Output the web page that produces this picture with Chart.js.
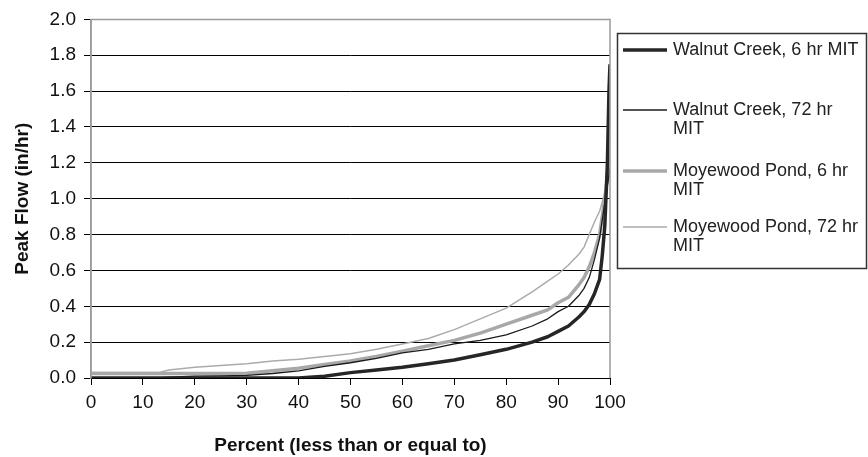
<!DOCTYPE html>
<html>
<head>
<meta charset="utf-8">
<script src="https://cdn.jsdelivr.net/npm/chart.js@4.4.1/dist/chart.umd.min.js"></script>
<style>
  html, body { margin: 0; padding: 0; background: #fff; }
  #wrap { width: 868px; height: 457px; position: relative; }
</style>
</head>
<body>
<div id="wrap"><canvas id="c" width="868" height="457"></canvas></div>
<script>
// ---- data ----
const pct = [0, 10, 13, 15, 20, 25, 30, 35, 40, 45, 50, 55, 60, 65, 70, 75, 80, 85, 88, 90, 92, 94, 95, 96, 97, 98, 98.5, 99, 99.5, 99.8, 100];
const walnut6 = [0, 0, 0, 0, 0, 0, 0, 0, 0, 0.01, 0.03, 0.045, 0.06, 0.08, 0.10, 0.13, 0.16, 0.20, 0.23, 0.26, 0.29, 0.34, 0.37, 0.41, 0.47, 0.55, 0.68, 0.85, 1.2, 1.6, 1.75];
const walnut72 = [0, 0, 0, 0.005, 0.01, 0.012, 0.015, 0.025, 0.04, 0.065, 0.085, 0.11, 0.14, 0.16, 0.19, 0.21, 0.24, 0.29, 0.33, 0.37, 0.40, 0.46, 0.50, 0.56, 0.66, 0.78, 0.88, 0.98, 1.08, 1.13, 1.17];
const moye6 = [0.025, 0.025, 0.025, 0.025, 0.025, 0.025, 0.027, 0.04, 0.055, 0.075, 0.095, 0.12, 0.15, 0.18, 0.21, 0.25, 0.30, 0.35, 0.38, 0.42, 0.45, 0.52, 0.56, 0.62, 0.70, 0.80, 0.90, 1.0, 1.12, 1.2, 1.27];
const moye72 = [0.03, 0.03, 0.03, 0.045, 0.06, 0.07, 0.08, 0.095, 0.105, 0.12, 0.135, 0.16, 0.19, 0.22, 0.27, 0.33, 0.39, 0.48, 0.54, 0.58, 0.63, 0.69, 0.73, 0.80, 0.87, 0.93, 0.98, 1.03, 1.08, 1.12, 1.15];
const seriesNames = ['Walnut Creek, 6 hr MIT', 'Walnut Creek, 72 hr MIT', 'Moyewood Pond, 6 hr MIT', 'Moyewood Pond, 72 hr MIT'];
const xTitle = 'Percent (less than or equal to)';
const yTitle = 'Peak Flow (in/hr)';

const toPts = arr => pct.map((p, i) => ({ x: p, y: arr[i] }));

const FONT = "'Liberation Sans', Arial, Helvetica, sans-serif";

const frameAndLegend = {
  id: 'frameAndLegend',
  afterDatasetsDraw(chart) {
    const { ctx, chartArea: a } = chart;
    ctx.save();
    ctx.strokeStyle = '#9a9a9a';
    ctx.lineWidth = 1.5;
    ctx.beginPath();
    ctx.moveTo(a.left, a.bottom);
    ctx.lineTo(a.left, a.top);
    ctx.lineTo(a.right, a.top);
    ctx.lineTo(a.right, a.bottom);
    ctx.stroke();
    ctx.restore();
  },
  afterDraw(chart) {
    const { ctx } = chart;
    ctx.save();
    const bx = 617, by = 33, bw = 249, bh = 235;
    ctx.strokeStyle = '#333';
    ctx.lineWidth = 1.5;
    ctx.strokeRect(bx + 0.5, by + 0.5, bw, bh);
    ctx.font = '18px ' + FONT;
    ctx.fillStyle = '#222';
    ctx.textBaseline = 'middle';
    const rows = [50, 110, 171, 227];
    const maxW = 188;
    chart.data.datasets.forEach((ds, i) => {
      const y = rows[i];
      ctx.strokeStyle = ds.borderColor;
      ctx.lineWidth = ds.borderWidth;
      ctx.beginPath();
      ctx.moveTo(bx + 6, y);
      ctx.lineTo(bx + 50, y);
      ctx.stroke();
      const words = ds.label.split(' ');
      const lines = [];
      let cur = '';
      words.forEach(w => {
        const t = cur ? cur + ' ' + w : w;
        if (ctx.measureText(t).width > maxW && cur) { lines.push(cur); cur = w; }
        else cur = t;
      });
      if (cur) lines.push(cur);
      lines.forEach((ln, k) => ctx.fillText(ln, bx + 56, y + k * 19));
    });
    ctx.restore();
  }
};

new Chart(document.getElementById('c'), {
  type: 'line',
  data: {
    datasets: [
      { label: seriesNames[0], data: toPts(walnut6), borderColor: '#262626', borderWidth: 3.5 },
      { label: seriesNames[1], data: toPts(walnut72), borderColor: '#1a1a1a', borderWidth: 1.3 },
      { label: seriesNames[2], data: toPts(moye6), borderColor: '#a8a8a8', borderWidth: 3.5 },
      { label: seriesNames[3], data: toPts(moye72), borderColor: '#ababab', borderWidth: 1.5 }
    ]
  },
  options: {
    responsive: false,
    animation: false,
    devicePixelRatio: 1,
    elements: { point: { radius: 0 }, line: { tension: 0, fill: false, borderJoinStyle: 'round' } },
    layout: { padding: { left: 0, right: 258, top: 17, bottom: 0 } },
    plugins: { legend: { display: false }, tooltip: { enabled: false } },
    scales: {
      x: {
        type: 'linear', min: 0, max: 100,
        ticks: { stepSize: 10, color: '#111', font: { family: FONT, size: 19 }, padding: 6, maxRotation: 0 },
        grid: { drawOnChartArea: false, drawTicks: true, tickLength: 7, tickColor: '#000' },
        border: { color: '#000', width: 1 },
        title: { display: true, text: xTitle, color: '#111', font: { family: FONT, size: 19, weight: 'bold' }, padding: { top: 0, bottom: 0 } },
        afterFit(s) { s.height = 79; }
      },
      y: {
        min: 0, max: 2,
        ticks: { stepSize: 0.2, color: '#111', font: { family: FONT, size: 19 }, padding: 8, callback: v => v.toFixed(1) },
        grid: {
          color: ctx => (ctx.tick && Math.abs(ctx.tick.value - 2) < 1e-6) ? 'rgba(0,0,0,0)' : '#000',
          lineWidth: 1, drawTicks: true, tickLength: 7, tickColor: '#000'
        },
        border: { color: '#9a9a9a', width: 1.5 },
        title: { display: true, text: yTitle, color: '#111', font: { family: FONT, size: 19, weight: 'bold' }, padding: { top: 11, bottom: 0 } },
        afterFit(s) { s.width = 91; }
      }
    }
  },
  plugins: [frameAndLegend]
});
</script>
</body>
</html>
